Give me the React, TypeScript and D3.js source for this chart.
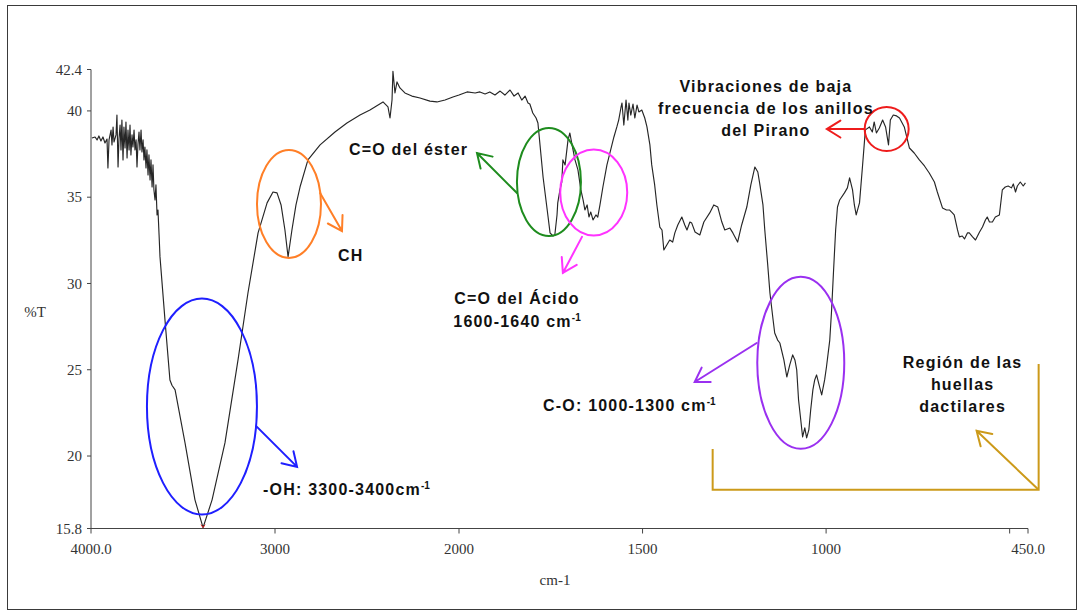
import React from "react";
import * as d3 from "d3";

// FTIR spectrum: wavenumber (cm-1) and transmittance (%T)
const wavenumber: number[] = [
  3995, 3978, 3967, 3957, 3946, 3935, 3924, 3913, 3908, 3902, 3891, 3886, 3880, 3875, 3864, 3859,
  3853, 3848, 3842, 3837, 3832, 3826, 3821, 3815, 3810, 3804, 3799, 3793, 3788, 3783, 3777, 3772,
  3766, 3761, 3755, 3750, 3745, 3739, 3734, 3728, 3723, 3717, 3712, 3707, 3701, 3696, 3690, 3685,
  3679, 3674, 3668, 3663, 3658, 3652, 3647, 3641, 3636, 3630, 3625,
  3598, 3571, 3560, 3543, 3489, 3435, 3391, 3342, 3272, 3201, 3147, 3092, 3043, 3011, 2989, 2967,
  2946, 2929, 2908, 2886, 2864, 2821, 2755, 2674, 2609, 2538, 2484, 2413, 2386, 2375, 2364, 2359,
  2348, 2337, 2321, 2294, 2256, 2212, 2158, 2120, 2076, 2033, 2000,
  1978, 1956, 1943, 1929, 1916, 1902, 1888, 1875, 1861, 1850, 1839, 1829, 1820, 1812, 1807, 1799,
  1790, 1785, 1771, 1758, 1752, 1744, 1739, 1733, 1731, 1725, 1720, 1717, 1711, 1703, 1698, 1692,
  1684, 1676, 1668, 1662, 1657, 1651, 1646, 1641, 1635, 1627, 1622, 1616, 1608, 1597, 1589, 1578,
  1570, 1565, 1559, 1556, 1551, 1545, 1540, 1537, 1532, 1526, 1521, 1515, 1510, 1502, 1494, 1488,
  1480, 1475, 1467, 1461, 1453, 1447, 1442, 1434, 1426, 1418, 1412, 1404, 1393, 1385, 1379, 1371,
  1366, 1357, 1344, 1333, 1317, 1306, 1295, 1284, 1276, 1262, 1254, 1241, 1230, 1216, 1205, 1194,
  1186, 1181, 1172, 1167, 1159, 1153, 1145, 1140, 1132, 1126, 1115, 1107, 1099, 1091, 1085, 1080,
  1075, 1069, 1064, 1058, 1053, 1047, 1042, 1036, 1031, 1026, 1017, 1012, 1004, 999, 990, 985,
  980, 974, 969, 963, 950, 942, 936, 928, 923, 918, 909, 901, 893, 882, 874, 869,
  863, 855, 846, 838, 830, 825, 817, 808, 800, 787, 773, 760, 746, 732, 719, 705,
  697, 683, 672, 664, 656, 651, 642, 637, 629, 623, 615, 610, 601, 593, 582, 574,
  566, 561, 555, 547, 539, 528, 520, 512, 504, 495, 490, 484, 479, 471, 463, 457,
];

const transmittance: number[] = [
  38.43, 38.49, 38.32, 38.55, 38.26, 38.49, 38.14, 38.37, 36.69, 38.32, 38.89, 38.03, 39.07, 38.2, 38.61, 39.76,
  36.75, 38.37, 39.18, 37.74, 39.47, 37.16, 39.07, 37.85, 39.36, 37.27, 38.89, 37.74, 39.18, 37.45, 38.61, 37.91,
  38.89, 37.74, 38.32, 36.75, 38.03, 38.78, 37.74, 38.89, 37.62, 38.32, 37.16, 37.91, 36.69, 37.74, 36.29, 37.45,
  36.0, 37.16, 35.59, 36.87, 35.42, 34.84, 35.71, 33.97, 34.26, 32.81, 31.54,
  27.89, 24.41, 24.1, 23.83, 20.76, 17.46, 15.85, 17.46, 20.76, 25.57, 29.45, 32.93, 34.67, 35.3, 35.25, 34.55,
  33.1, 31.54, 33.1, 34.55, 35.59, 37.16, 38.03, 38.78, 39.3, 39.76, 40.05, 40.52, 40.23, 39.59, 40.63, 42.3,
  41.04, 41.68, 41.33, 41.04, 40.86, 40.75, 40.57, 40.52, 40.63, 40.81, 40.92,
  41.1, 41.04, 41.1, 40.98, 41.1, 40.92, 41.15, 40.92, 41.21, 40.86, 41.04, 40.63, 40.86, 40.46, 40.4, 39.88,
  39.59, 39.3, 36.17, 33.97, 32.93, 32.75, 32.81, 33.97, 34.67, 35.42, 35.88, 37.16, 36.87, 38.32, 38.72, 38.03,
  37.16, 36.58, 35.42, 34.84, 34.26, 34.55, 33.85, 34.14, 33.68, 33.97, 33.85, 34.55, 35.59, 36.87, 37.56, 38.49,
  39.07, 39.47, 40.17, 40.46, 39.18, 40.63, 39.47, 40.46, 39.76, 40.4, 39.59, 40.34, 39.94, 40.05, 39.59, 39.07,
  38.03, 36.87, 35.71, 34.55, 33.27, 33.1, 31.94, 32.23, 32.52, 32.4, 32.93, 33.39, 33.85, 33.39, 33.1, 33.56,
  33.5, 32.98, 32.81, 33.56, 34.09, 34.55, 34.43, 33.56, 33.1, 33.21, 32.93, 32.4, 33.39, 34.43, 35.71, 36.75,
  36.46, 35.82, 34.55, 33.1, 31.07, 29.45, 28.0, 27.13, 26.72, 26.55, 25.57, 24.58, 25.28, 25.86, 25.57, 24.99,
  23.25, 22.09, 21.11, 21.63, 21.05, 21.51, 22.67, 23.83, 24.41, 24.7, 23.95, 23.54, 24.41, 25.16, 26.72, 28.46,
  30.61, 33.1, 34.43, 34.84, 35.25, 35.54, 36.12, 35.42, 34.55, 33.97, 34.67, 36.75, 38.9, 39.07, 38.78, 39.36,
  38.72, 39.01, 39.47, 39.07, 38.03, 39.47, 39.76, 39.71, 39.59, 39.07, 37.85, 37.56, 37.16, 36.81, 36.4, 35.88,
  35.3, 34.38, 34.26, 34.26, 34.09, 33.97, 33.1, 32.7, 32.75, 32.58, 32.93, 32.93, 32.7, 32.52, 32.98, 33.27,
  33.68, 33.85, 33.56, 33.56, 33.85, 33.97, 35.42, 35.59, 35.65, 35.54, 35.77, 35.3, 35.65, 35.88, 35.65, 35.83,
];

// Axis ticks: the instrument scale doubles its expansion below 2000 cm-1
const xTickValues: number[] = [4000, 3000, 2000, 1500, 1000, 500, 450];
const xTickLabels: string[] = ["4000.0", "3000", "2000", "1500", "1000", "", "450.0"];
const yTickValues: number[] = [42.4, 40, 35, 30, 25, 20, 15.8];
const yTickLabels: string[] = ["42.4", "40", "35", "30", "25", "20", "15.8"];

// Band annotations, anchored in (cm-1, %T)
type Ellipse = { wn: number; t: number; rx: number; ry: number; color: string };
const bandEllipses: Ellipse[] = [
  { wn: 3397, t: 22.87, rx: 55, ry: 108, color: "#1f1fff" },
  { wn: 2924, t: 34.61, rx: 32, ry: 54, color: "#ff7f27" },
  { wn: 1755, t: 35.88, rx: 32, ry: 54, color: "#1e8c1e" },
  { wn: 1633, t: 35.27, rx: 33.5, ry: 43, color: "#ff33ff" },
  { wn: 835, t: 38.95, rx: 22, ry: 22, color: "#ee1c1c" },
  { wn: 1069, t: 25.4, rx: 43.5, ry: 86, color: "#9a30f0" },
];

type Arrow = { from: [number, number]; to: [number, number]; color: string };
const bandArrows: Arrow[] = [
  { from: [3098, 21.69], to: [2880, 19.37], color: "#1f1fff" },
  { from: [2755, 35.24], to: [2636, 33.04], color: "#ff7f27" },
  { from: [1842, 35.24], to: [1951, 37.56], color: "#1e8c1e" },
  { from: [1665, 32.7], to: [1717, 30.61], color: "#ff33ff" },
  { from: [895, 38.95], to: [998, 38.95], color: "#ee1c1c" },
  { from: [1189, 26.55], to: [1358, 24.29], color: "#9a30f0" },
  { from: [424, 18.1], to: [590, 21.46], color: "#cc9a1a" },
];

// Fingerprint region bracket corners
const bracketWn: number[] = [1309, 1309, 421, 421];
const bracketT: number[] = [20.41, 18.04, 18.04, 25.34];

type Label = { wn: number; t: number; anchor: "start" | "middle" | "end"; lines: string[]; sup?: boolean };
const bandLabels: Label[] = [
  { wn: 3065, t: 17.75, anchor: "start", lines: ["-OH: 3300-3400cm"], sup: true },
  { wn: 2658, t: 31.3, anchor: "start", lines: ["CH"] },
  { wn: 1975, t: 37.45, anchor: "end", lines: ["C=O del éster"] },
  { wn: 1842, t: 28.81, anchor: "middle", lines: ["C=O del Ácido"] },
  { wn: 1842, t: 27.48, anchor: "middle", lines: ["1600-1640 cm"], sup: true },
  { wn: 1164, t: 41.1, anchor: "middle", lines: ["Vibraciones de baja", "frecuencia de los anillos", "del Pirano"] },
  { wn: 1771, t: 22.61, anchor: "start", lines: ["C-O: 1000-1300 cm"], sup: true },
  { wn: 628, t: 25.13, anchor: "middle", lines: ["Región de las", "huellas", "dactilares"] },
];

const W = 1082;
const H = 613;

function arrowPath(x1: number, y1: number, x2: number, y2: number, len = 16, ang = (32 * Math.PI) / 180) {
  const a = Math.atan2(y2 - y1, x2 - x1);
  const b1x = x2 - len * Math.cos(a - ang);
  const b1y = y2 - len * Math.sin(a - ang);
  const b2x = x2 - len * Math.cos(a + ang);
  const b2y = y2 - len * Math.sin(a + ang);
  return `M${x1},${y1}L${x2},${y2}M${b1x},${b1y}L${x2},${y2}L${b2x},${b2y}`;
}

export default function App() {
  const x = d3.scaleLinear().domain([4000, 2000, 450]).range([91, 459, 1028]);
  const y = d3.scaleLinear().domain([15.8, 42.4]).range([528.5, 69.5]);

  const points: [number, number][] = wavenumber.map((w, i) => [w, transmittance[i]]);
  const line = d3
    .line<[number, number]>()
    .x((d) => x(d[0]))
    .y((d) => y(d[1]));

  const minIdx = d3.minIndex(transmittance);
  const minX = x(wavenumber[minIdx]);
  const minY = y(transmittance[minIdx]);

  const bracket = d3
    .line<number>()
    .x((i) => x(bracketWn[i]))
    .y((i) => y(bracketT[i]));

  const serif = "'Liberation Serif', 'Times New Roman', serif";
  const sans = "'Liberation Sans', Arial, sans-serif";
  const lineGap = 22;

  return (
    <svg
      width={W}
      height={H}
      style={{ position: "absolute", left: 0, top: 0, background: "#fff" }}
      xmlns="http://www.w3.org/2000/svg"
    >
      <rect x={7.5} y={5.5} width={1069} height={604} fill="#fff" stroke="#3a3a3a" strokeWidth={1} />

      {/* axes */}
      <line x1={x(4000)} x2={x(4000)} y1={y(42.4)} y2={y(15.8)} stroke="#444" strokeWidth={1} />
      <line x1={x(4000)} x2={x(450)} y1={y(15.8)} y2={y(15.8)} stroke="#444" strokeWidth={1} />
      {yTickValues.map((v, i) => (
        <g key={`yt${i}`}>
          <line x1={x(4000) - 4} x2={x(4000)} y1={y(v)} y2={y(v)} stroke="#444" />
          <text
            x={x(4000) - 9}
            y={y(v)}
            dy="0.35em"
            textAnchor="end"
            fontFamily={serif}
            fontSize={15}
            fill="#333"
          >
            {yTickLabels[i]}
          </text>
        </g>
      ))}
      {xTickValues.map((v, i) => (
        <g key={`xt${i}`}>
          <line x1={x(v)} x2={x(v)} y1={y(15.8)} y2={y(15.8) + 5} stroke="#444" />
          <text x={x(v)} y={y(15.8) + 25} textAnchor="middle" fontFamily={serif} fontSize={15} fill="#333">
            {xTickLabels[i]}
          </text>
        </g>
      ))}
      <text x={35} y={312} dy="0.35em" textAnchor="middle" fontFamily={serif} fontSize={15} fill="#333">
        %T
      </text>
      <text x={555} y={585} textAnchor="middle" fontFamily={serif} fontSize={15} fill="#333">
        cm-1
      </text>

      {/* spectrum */}
      <path d={line(points) || ""} fill="none" stroke="#262626" strokeWidth={1.15} strokeLinejoin="round" />
      <path d={`M${minX - 2},${minY - 3}L${minX},${minY}L${minX + 2},${minY - 3}`} fill="none" stroke="#e02020" strokeWidth={1} />

      {/* fingerprint bracket */}
      <path d={bracket([0, 1, 2, 3]) || ""} fill="none" stroke="#cc9a1a" strokeWidth={2} />

      {bandEllipses.map((e, i) => (
        <ellipse key={`e${i}`} cx={x(e.wn)} cy={y(e.t)} rx={e.rx} ry={e.ry} fill="none" stroke={e.color} strokeWidth={2} />
      ))}
      {bandArrows.map((a, i) => (
        <path
          key={`a${i}`}
          d={arrowPath(x(a.from[0]), y(a.from[1]), x(a.to[0]), y(a.to[1]))}
          fill="none"
          stroke={a.color}
          strokeWidth={2}
          strokeLinecap="round"
        />
      ))}

      {bandLabels.map((l, i) => (
        <text
          key={`l${i}`}
          x={x(l.wn)}
          y={y(l.t)}
          textAnchor={l.anchor}
          fontFamily={sans}
          fontWeight="bold"
          fontSize={16}
          letterSpacing={1.2}
          fill="#111"
        >
          {l.lines.map((s, j) => (
            <tspan key={j} x={x(l.wn)} dy={j === 0 ? 0 : lineGap}>
              {s}
              {l.sup ? (
                <tspan fontSize={10} dy={-6} letterSpacing={0}>
                  -1
                </tspan>
              ) : null}
            </tspan>
          ))}
        </text>
      ))}
    </svg>
  );
}
